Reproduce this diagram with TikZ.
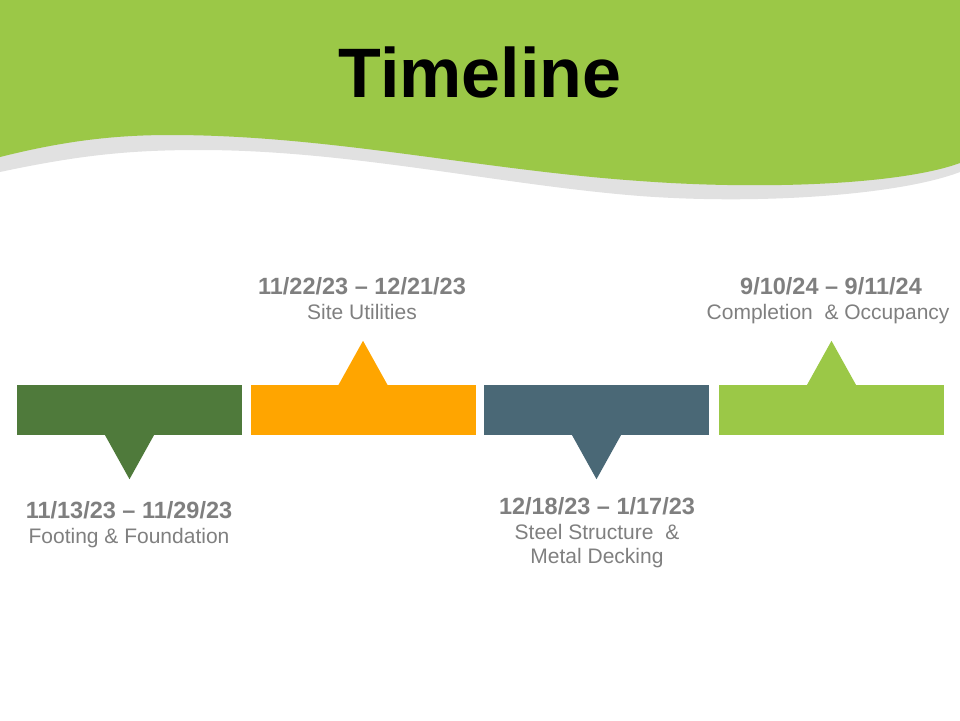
\documentclass[tikz,border=0pt]{standalone}
\usepackage{fontspec}
\setmainfont{Liberation Sans}
\usetikzlibrary{positioning}
\usepackage{xcolor}

\definecolor{headgreen}{HTML}{9BC847}
\definecolor{bandgray}{HTML}{E1E1E1}
\definecolor{barforest}{HTML}{4F7A3B}
\definecolor{barorange}{HTML}{FFA500}
\definecolor{barslate}{HTML}{4A6876}
\definecolor{barlime}{HTML}{9BC847}
\definecolor{labelgray}{HTML}{7F7F7F}

\begin{document}
\begin{tikzpicture}[
  x=1pt, y=-1pt,
  bar/.style={rectangle, inner sep=0pt, minimum width=225pt, minimum height=50pt},
  datetxt/.style={font=\fontsize{23.5}{27}\selectfont\bfseries, text=labelgray, anchor=base, inner sep=0pt},
  infotxt/.style={font=\fontsize{21}{24}\selectfont, text=labelgray, anchor=base, align=center, inner sep=0pt}
]
\useasboundingbox (0,0) rectangle (960,720);
% header wave
\fill[bandgray] (0,0) -- (0,172) .. controls (80,155) and (130,150) .. (200,150)
  .. controls (350,150) and (500,185) .. (640,196)
  .. controls (760,205) and (900,195) .. (960,172) -- (960,0) -- cycle;
\fill[headgreen] (0,0) -- (0,157) .. controls (60,142) and (110,135) .. (170,135)
  .. controls (330,135) and (480,170) .. (640,181)
  .. controls (760,190) and (900,185) .. (960,163) -- (960,0) -- cycle;
\node[font=\fontsize{70}{80}\selectfont\bfseries, anchor=base, inner sep=0pt] (title) at (480,97) {Timeline};
% bars with pointers
\foreach \n/\x/\col/\an/\s in {1/129.5/barforest/south/-1, 2/363/barorange/north/1,
                               3/596.5/barslate/south/-1, 4/831.5/barlime/north/1} {
  \node[bar, fill=\col] (bar\n) at (\x,410) {};
  \fill[\col] ([xshift=-25pt, yshift=-\s*1pt]bar\n.\an) -- ([xshift=25pt, yshift=-\s*1pt]bar\n.\an)
    -- ([yshift=\s*44pt]bar\n.\an) -- cycle;
}
% labels (\k = lines of description)
\foreach \n/\x/\y/\k/\dt/\txt in {
  1/129/518/1/{11/13/23 -- 11/29/23}/{Footing \& Foundation},
  2/362/294/1/{11/22/23 -- 12/21/23}/{Site Utilities},
  3/597/514/2/{12/18/23 -- 1/17/23}/{Steel Structure \ \&\\Metal Decking},
  4/831/294/1/{9/10/24 -- 9/11/24}/{Completion \ \& Occupancy}
} {
  \node[datetxt] (date\n) at (\x,\y) {\dt};
  \node[infotxt] (info\n) at ([yshift=-24pt*\k-1pt]date\n.base) {\txt};
}
\end{tikzpicture}
\end{document}
